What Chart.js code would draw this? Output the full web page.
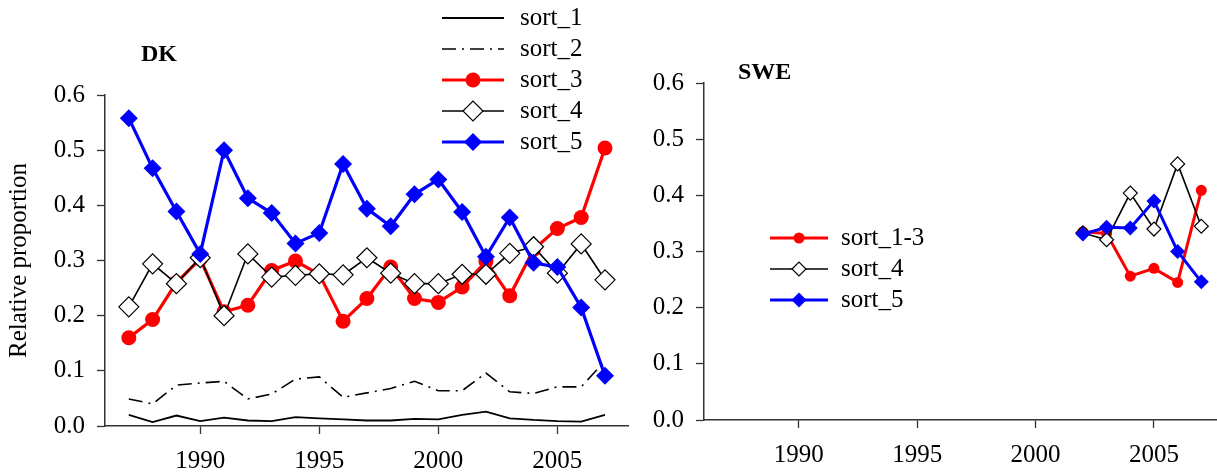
<!DOCTYPE html>
<html>
<head>
<meta charset="utf-8">
<script src="https://cdn.jsdelivr.net/npm/chart.js@4.4.0/dist/chart.umd.min.js"></script>
<style>
html, body { margin:0; padding:0; background:#fff; overflow:hidden; }
#wrap { position:relative; width:1217px; height:472px; overflow:hidden; }
#dk_box { position:absolute; left:0; top:0; width:640px; height:472px; }
#swe_box { position:absolute; left:640px; top:0; width:600px; height:472px; }
</style>
</head>
<body>
<div id="wrap">
  <div id="dk_box"><canvas id="dk_chart" width="640" height="472"></canvas></div>
  <div id="swe_box"><canvas id="swe_chart" width="600" height="472"></canvas></div>
</div>
<script>
// DK panel
const dkYears = [1987,1988,1989,1990,1991,1992,1993,1994,1995,1996,1997,1998,1999,2000,2001,2002,2003,2004,2005,2006,2007];
const dkSort1 = [0.020,0.007,0.019,0.009,0.015,0.010,0.009,0.016,0.014,0.012,0.010,0.010,0.013,0.012,0.020,0.026,0.014,0.011,0.009,0.008,0.020];
const dkSort2 = [0.049,0.040,0.074,0.078,0.081,0.049,0.058,0.085,0.089,0.052,0.060,0.068,0.081,0.064,0.064,0.096,0.062,0.059,0.071,0.071,0.118];
const dkSort3 = [0.160,0.193,0.260,0.303,0.207,0.219,0.282,0.299,0.275,0.190,0.231,0.288,0.231,0.224,0.252,0.298,0.236,0.320,0.358,0.378,0.504];
const dkSort4 = [0.216,0.294,0.258,0.305,0.200,0.312,0.270,0.273,0.276,0.274,0.305,0.277,0.258,0.258,0.275,0.275,0.313,0.325,0.277,0.330,0.265];
const dkSort5 = [0.558,0.467,0.389,0.312,0.500,0.413,0.386,0.331,0.350,0.475,0.394,0.362,0.420,0.447,0.388,0.307,0.378,0.296,0.288,0.215,0.091];

// SWE panel
const sweYears = [2002,2003,2004,2005,2006,2007];
const sweSort13 = [0.335,0.332,0.256,0.270,0.245,0.409];
const sweSort4 = [0.333,0.321,0.404,0.340,0.456,0.345];
const sweSort5 = [0.331,0.343,0.342,0.390,0.300,0.246];

const xTicks = [1990,1995,2000,2005];
const yTicks = [0,0.1,0.2,0.3,0.4,0.5,0.6];

const serif = 'Liberation Serif';

function pts(xs, ys) {
    return xs.map(function (x, i) { return {x: x, y: ys[i]}; });
}

// legend drawn with line + marker samples
const sampleLegend = {
    id: 'sampleLegend',
    afterDraw(chart, args, opts) {
        let ctx = chart.ctx;
        ctx.save();
        opts.rows.forEach(function (row, i) {
            let ds = chart.data.datasets[row.index];
            let y = opts.top + i * opts.gap;
            ctx.strokeStyle = ds.borderColor;
            ctx.lineWidth = ds.borderWidth;
            ctx.setLineDash(ds.borderDash || []);
            ctx.beginPath();
            ctx.moveTo(opts.x, y);
            ctx.lineTo(opts.x + opts.len, y);
            ctx.stroke();
            ctx.setLineDash([]);
            if (ds.pointRadius > 0) {
                ctx.fillStyle = ds.pointBackgroundColor;
                ctx.strokeStyle = ds.pointBorderColor;
                ctx.lineWidth = ds.pointBorderWidth;
                Chart.helpers.drawPoint(ctx, {
                    pointStyle: ds.pointStyle,
                    radius: ds.pointRadius,
                    borderWidth: ds.pointBorderWidth,
                    rotation: 0
                }, opts.x + opts.len / 2, y);
            }
            ctx.fillStyle = '#000';
            ctx.font = opts.fontSize + 'px "' + serif + '"';
            ctx.textAlign = 'left';
            ctx.textBaseline = 'middle';
            ctx.fillText(ds.label, opts.x + opts.len + opts.textGap, y);
        });
        // panel title
        ctx.font = 'bold 24px "' + serif + '"';
        ctx.textBaseline = 'middle';
        ctx.fillText(opts.title, opts.titleX, opts.titleY);
        ctx.restore();
    }
};

function makeScales(yWidth, xHeight, xPad, yTitle) {
    return {
        x: {
            type: 'linear', min: 1986, max: 2008,
            afterBuildTicks: function (s) { s.ticks = xTicks.map(function (v) { return {value: v}; }); },
            afterFit: function (s) { s.height = xHeight; },
            grid: { drawOnChartArea: false, drawTicks: true, tickLength: 8, tickColor: '#333', tickWidth: 1.3 },
            border: { color: '#333', width: 1.5 },
            ticks: { color: '#000', font: { family: serif, size: 25 }, padding: xPad, autoSkip: false, maxRotation: 0,
                     callback: function (v) { return String(v); } }
        },
        y: {
            min: 0, max: 0.6,
            afterBuildTicks: function (s) { s.ticks = yTicks.map(function (v) { return {value: v}; }); },
            afterFit: function (s) { s.width = yWidth; },
            grid: { drawOnChartArea: false, drawTicks: true, tickLength: 8, tickColor: '#333', tickWidth: 1.3 },
            border: { color: '#333', width: 1.5 },
            ticks: { color: '#000', font: { family: serif, size: 25 }, padding: 12,
                     callback: function (v) { return v.toFixed(1); } },
            title: { display: !!yTitle, text: yTitle || '', color: '#000',
                     font: { family: serif, size: 25 }, padding: { top: 4, bottom: 0 } }
        }
    };
}

let dkChart = new Chart($id('dk_chart'), {
    type: 'line',
    data: {
        datasets: [
            { label: 'sort_1', data: pts(dkYears, dkSort1), borderColor: '#000', borderWidth: 1.8,
              pointRadius: 0, order: 5 },
            { label: 'sort_2', data: pts(dkYears, dkSort2), borderColor: '#000', borderWidth: 1.6,
              borderDash: [14, 6, 2, 6], pointRadius: 0, order: 4 },
            { label: 'sort_3', data: pts(dkYears, dkSort3), borderColor: '#ff0000', borderWidth: 3.2,
              pointStyle: 'circle', pointRadius: 7.5, pointBackgroundColor: '#ff0000',
              pointBorderColor: '#ff0000', pointBorderWidth: 0, order: 3 },
            { label: 'sort_4', data: pts(dkYears, dkSort4), borderColor: '#000', borderWidth: 1.6,
              pointStyle: 'rectRot', pointRadius: 10, pointBackgroundColor: '#fff',
              pointBorderColor: '#000', pointBorderWidth: 1.2, order: 2 },
            { label: 'sort_5', data: pts(dkYears, dkSort5), borderColor: '#0000ff', borderWidth: 3.2,
              pointStyle: 'rectRot', pointRadius: 9, pointBackgroundColor: '#0000ff',
              pointBorderColor: '#0000ff', pointBorderWidth: 0, order: 1 }
        ]
    },
    options: {
        responsive: false,
        animation: false,
        events: [],
        layout: { padding: { left: 0, top: 95, right: 6, bottom: 0 } },
        scales: makeScales(105, 46, 12, 'Relative proportion'),
        plugins: {
            legend: { display: false },
            tooltip: { enabled: false },
            sampleLegend: { rows: [{index:0},{index:1},{index:2},{index:3},{index:4}],
                            x: 442, len: 62, textGap: 16, top: 18, gap: 31, fontSize: 25,
                            title: 'DK', titleX: 141, titleY: 55 }
        }
    },
    plugins: [sampleLegend]
});

let sweChart = new Chart($id('swe_chart'), {
    type: 'line',
    data: {
        datasets: [
            { label: 'sort_1-3', data: pts(sweYears, sweSort13), borderColor: '#ff0000', borderWidth: 3,
              pointStyle: 'circle', pointRadius: 5.5, pointBackgroundColor: '#ff0000',
              pointBorderColor: '#ff0000', pointBorderWidth: 0, order: 3 },
            { label: 'sort_4', data: pts(sweYears, sweSort4), borderColor: '#000', borderWidth: 1.6,
              pointStyle: 'rectRot', pointRadius: 7, pointBackgroundColor: '#fff',
              pointBorderColor: '#000', pointBorderWidth: 1.2, order: 2 },
            { label: 'sort_5', data: pts(sweYears, sweSort5), borderColor: '#0000ff', borderWidth: 3,
              pointStyle: 'rectRot', pointRadius: 7.5, pointBackgroundColor: '#0000ff',
              pointBorderColor: '#0000ff', pointBorderWidth: 0, order: 1 }
        ]
    },
    options: {
        responsive: false,
        animation: false,
        events: [],
        layout: { padding: { left: 0, top: 83, right: 15, bottom: 0 } },
        scales: makeScales(64, 52, 12, null),
        plugins: {
            legend: { display: false },
            tooltip: { enabled: false },
            sampleLegend: { rows: [{index:0},{index:1},{index:2}],
                            x: 130, len: 58, textGap: 13, top: 238, gap: 31, fontSize: 25,
                            title: 'SWE', titleX: 98, titleY: 73 }
        }
    },
    plugins: [sampleLegend]
});

function $id(id) { return document.getElementById(id); }
</script>
</body>
</html>
